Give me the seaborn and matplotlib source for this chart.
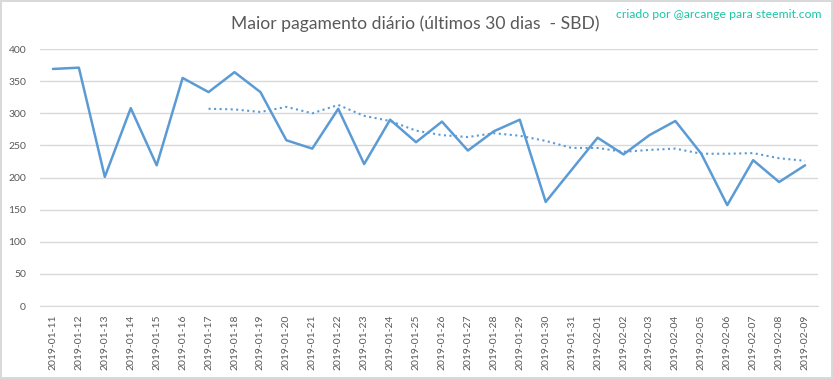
import pandas as pd
import seaborn as sns
import matplotlib.pyplot as plt

dates = ['2019-01-11', '2019-01-12', '2019-01-13', '2019-01-14', '2019-01-15',
         '2019-01-16', '2019-01-17', '2019-01-18', '2019-01-19', '2019-01-20',
         '2019-01-21', '2019-01-22', '2019-01-23', '2019-01-24', '2019-01-25',
         '2019-01-26', '2019-01-27', '2019-01-28', '2019-01-29', '2019-01-30',
         '2019-01-31', '2019-02-01', '2019-02-02', '2019-02-03', '2019-02-04',
         '2019-02-05', '2019-02-06', '2019-02-07', '2019-02-08', '2019-02-09']

# maior pagamento diario (SBD)
pagamento = [369, 371, 201, 308, 219, 355, 333, 364, 333, 258,
             245, 307, 221, 290, 255, 287, 242, 272, 290, 162,
             212, 262, 236, 266, 288, 237, 157, 227, 193, 219]

# linha de tendencia pontilhada (media movel 7 dias), comeca em 2019-01-17
tendencia_datas = dates[6:]
tendencia = [307, 306, 302, 310, 300, 313, 296, 288, 273, 266,
             263, 269, 265, 257, 246, 246, 240, 243, 245, 237,
             237, 238, 230, 226]

df = pd.DataFrame({'data': dates, 'valor': pagamento})
df_t = pd.DataFrame({'data': tendencia_datas, 'valor': tendencia})
df['x'] = range(len(df))
df_t['x'] = range(6, 6 + len(df_t))

sns.set_style('white')
plt.rcParams['font.family'] = ['Lato', 'DejaVu Sans']

cor = '#5B9BD5'
cinza = '#595959'

fig = plt.figure(figsize=(8.33, 3.79), dpi=100)
fig.patch.set_edgecolor('#D9D9D9')
fig.patch.set_linewidth(1.5)
ax = fig.add_axes([0.048, 0.1926, 0.934, 0.678])

sns.lineplot(data=df, x='x', y='valor', ax=ax, color=cor, linewidth=1.8)
sns.lineplot(data=df_t, x='x', y='valor', ax=ax, color=cor, linewidth=1.5,
             linestyle=':')

ax.set_xlim(-0.5, len(dates) - 0.5)
ax.set_ylim(0, 400)
ax.set_yticks(range(0, 401, 50))
ax.set_xticks(range(len(dates)))
ax.set_xticklabels(dates, rotation=90, fontsize=7.5, color=cinza)
ax.tick_params(axis='y', labelsize=7.5, labelcolor=cinza, length=0, pad=10)
ax.tick_params(axis='x', length=0, pad=6)
ax.grid(axis='y', color='#D9D9D9', linewidth=1)
ax.set_axisbelow(True)
for s in ['top', 'right', 'left']:
    ax.spines[s].set_visible(False)
ax.spines['bottom'].set_color('#D9D9D9')
ax.set_xlabel('')
ax.set_ylabel('')

fig.text(0.499, 0.937, 'Maior pagamento diário (últimos 30 dias  - SBD)',
         ha='center', va='center', fontsize=12.6, color=cinza)
fig.text(0.986, 0.962, 'criado por @arcange para steemit.com',
         ha='right', va='center', fontsize=8.8, color='#1BC6A4')

plt.savefig('out.png', dpi=100, edgecolor=fig.get_edgecolor())
